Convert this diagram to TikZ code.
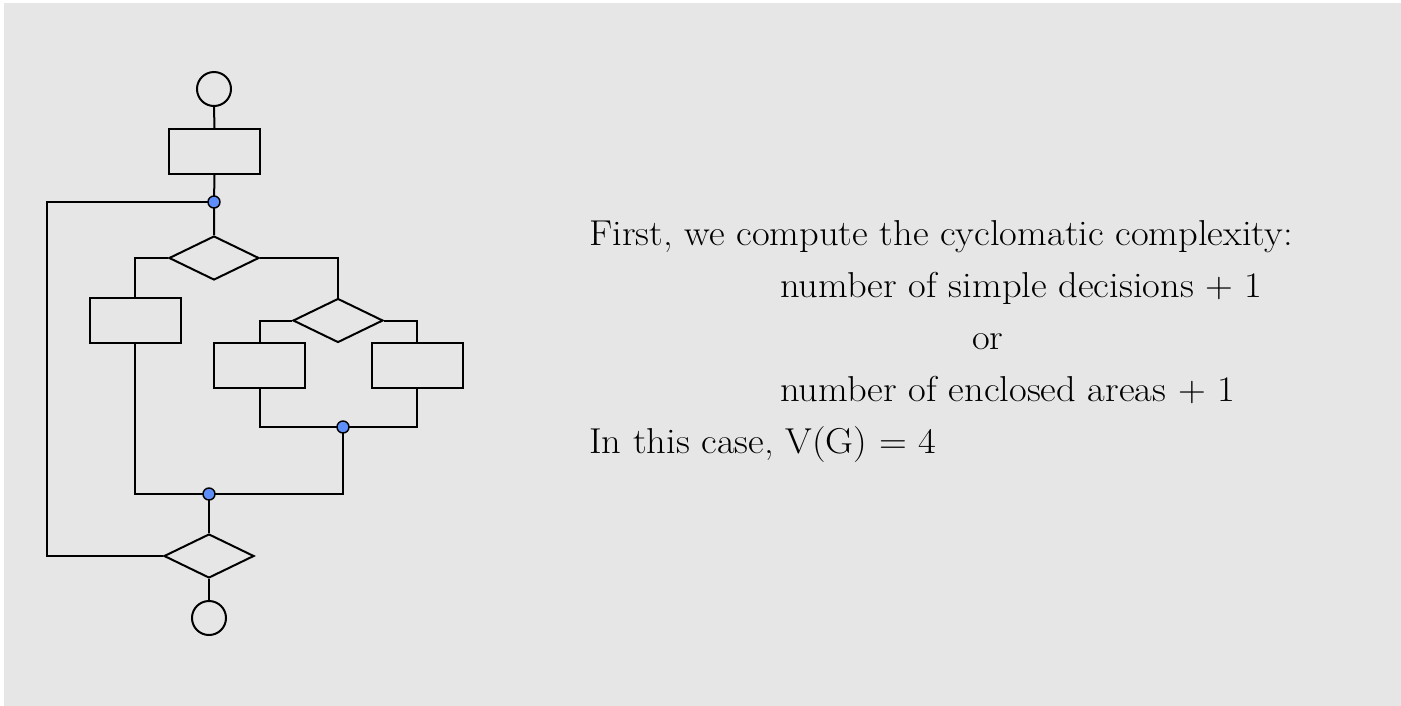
\documentclass[tikz,border=0pt]{standalone}
\usetikzlibrary{shapes.geometric}
\definecolor{panel}{RGB}{230,230,230}
\definecolor{joint}{RGB}{94,142,250}
\newcommand{\widetext}[1]{\scalebox{1.07}[1]{#1}}
\tikzset{
  flow/.style={draw=black, line width=2pt},
  proc/.style={flow, rectangle, inner sep=0pt, minimum width=91pt, minimum height=45pt},
  cond/.style={flow, diamond, inner sep=0pt, minimum width=90pt, minimum height=44pt},
  term/.style={flow, circle, inner sep=0pt, minimum size=34pt},
  junc/.style={circle, draw=black, line width=1.4pt, fill=joint, inner sep=0pt, minimum size=12pt},
  wire/.style={line width=2pt},
  txt/.style={anchor=base west, inner sep=0pt, font=\fontsize{36}{42}\selectfont}
}
\begin{document}
\begin{tikzpicture}[x=1pt, y=-1pt]
  \useasboundingbox (0,0) rectangle (1401,705);
  \fill[white] (0,0) rectangle (1401,705);
  \fill[panel] (4,3) rectangle (1402,706);

  % flowchart shapes
  \node[term] (start) at (214,89) {};
  \node[proc] (p1) at (214.5,151.5) {};
  \node[cond] (d1) at (214,258) {};
  \node[proc] (p2) at (135,320.5) {};
  \node[cond] (d2) at (338,320.5) {};
  \node[proc] (p3) at (259.5,365.5) {};
  \node[proc] (p4) at (417,365.5) {};
  \node[cond] (d3) at (209,556) {};
  \node[term] (stop) at (209,618) {};

  % junction points
  \coordinate (j1) at (214,202);
  \coordinate (j2) at (343,427);
  \coordinate (j3) at (209,494);
  \coordinate (loopx) at (47,0);

  % connectors
  \draw[wire] (start.south) -- (p1.north);
  \draw[wire] (p1.south) -- (j1) -- (d1.north);
  \draw[wire] (d1.west) -| (p2.north);
  \draw[wire] (d1.east) -| (d2.north);
  \draw[wire] (d2.west) -| (p3.north);
  \draw[wire] (d2.east) -| (p4.north);
  \draw[wire] (p3.south) |- (j2);
  \draw[wire] (p4.south) |- (j2);
  \draw[wire] (j2) |- (j3);
  \draw[wire] (p2.south) |- (j3);
  \draw[wire] (j3) -- (d3.north);
  \draw[wire] (d3.south) -- (stop.north);
  \draw[wire] (d3.west) -- (d3.west -| loopx) |- (j1);

  % junction dots on top of the wires
  \node[junc] (n1) at (j1) {};
  \node[junc] (n2) at (j2) {};
  \node[junc] (n3) at (j3) {};

  % explanation text
  \node[txt] (t1) at (589,245) {\widetext{First, we compute the cyclomatic complexity:}};
  \node[txt] (t2) at (780,297) {\widetext{number of simple decisions + 1}};
  \node[txt] (t3) at (972,349) {\widetext{or}};
  \node[txt] (t4) at (780,401) {\widetext{number of enclosed areas + 1}};
  \node[txt] (t5) at (589,453) {\widetext{In this case, V(G) = 4}};
\end{tikzpicture}
\end{document}
